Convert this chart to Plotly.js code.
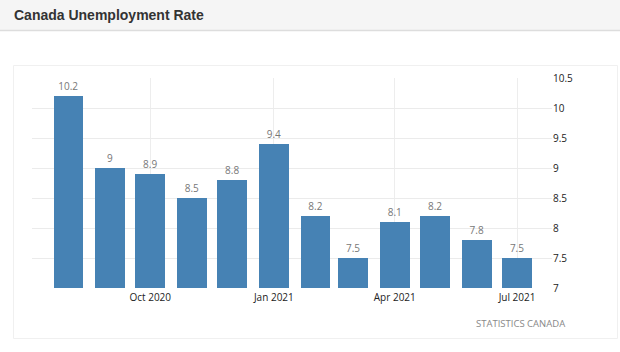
<!DOCTYPE html>
<html>
<head>
<meta charset="utf-8">
<script src="https://cdn.plot.ly/plotly-3.0.1.min.js"></script>
<style>
  html, body { margin: 0; padding: 0; background: #fff; }
  #chart { width: 620px; height: 352px; }
</style>
</head>
<body>
<div id="chart"></div>
<script>
const months = ['2020-08-01','2020-09-01','2020-10-01','2020-11-01','2020-12-01','2021-01-01',
                '2021-02-01','2021-03-01','2021-04-01','2021-05-01','2021-06-01','2021-07-01'];
const rates = [10.2, 9.0, 8.9, 8.5, 8.8, 9.4, 8.2, 7.5, 8.1, 8.2, 7.8, 7.5];
const rateLabels = ['10.2','9','8.9','8.5','8.8','9.4','8.2','7.5','8.1','8.2','7.8','7.5'];
const tickDates = ['2020-10-01','2021-01-01','2021-04-01','2021-07-01'];
const tickLabels = ['Oct 2020','Jan 2021','Apr 2021','Jul 2021'];
const yTicks = [7, 7.5, 8, 8.5, 9, 9.5, 10, 10.5];
const chartTitle = 'Canada Unemployment Rate';
const sourceText = 'STATISTICS CANADA';

const W = 620, H = 352, L = 32, R = 552, T = 78, B = 288;
const px = x => (x - L) / (R - L);
const py = y => (B - y) / (B - T);

const trace = {
  type: 'bar',
  x: months,
  y: rates,
  width: months.map(() => 22 * 86400000),
  marker: { color: '#4682b4' },
  text: rateLabels,
  textposition: 'outside',
  cliponaxis: false,
  textfont: { family: 'Open Sans', size: 10, color: '#777' },
  hoverinfo: 'x+y'
};

const layout = {
  width: W, height: H,
  margin: { l: L, r: W - R, t: T, b: H - B, pad: 0 },
  paper_bgcolor: '#fff',
  plot_bgcolor: 'rgba(0,0,0,0)',
  showlegend: false,
  bargap: 0,
  xaxis: {
    type: 'date',
    range: ['2020-07-05', '2021-07-27'],
    tickvals: tickDates,
    ticktext: tickLabels,
    showgrid: true,
    gridcolor: '#ededed',
    zeroline: false,
    showline: false,
    ticks: '',
    ticklabelstandoff: 2,
    tickfont: { family: 'Open Sans', size: 10, color: '#222' },
    fixedrange: true
  },
  yaxis: {
    side: 'right',
    range: [7, 10.5],
    tickvals: yTicks,
    showgrid: true,
    gridcolor: '#ebebeb',
    zeroline: false,
    showline: false,
    ticks: '',
    tickfont: { family: 'Open Sans', size: 10, color: '#222' },
    fixedrange: true
  },
  shapes: [
    { type: 'rect', xref: 'paper', yref: 'paper', layer: 'below',
      x0: px(0), x1: px(W), y0: py(0), y1: py(30),
      fillcolor: '#f5f5f5', line: { width: 0 } },
    { type: 'line', xref: 'paper', yref: 'paper', layer: 'below',
      x0: px(0), x1: px(W), y0: py(30.5), y1: py(30.5),
      line: { color: '#dddddd', width: 1.5 } },
    { type: 'rect', xref: 'paper', yref: 'paper', layer: 'below',
      x0: px(13.5), x1: px(617.5), y0: py(65.5), y1: py(338.5),
      fillcolor: 'rgba(0,0,0,0)', line: { color: '#f0f0f0', width: 1 } }
  ],
  annotations: [
    { text: '<b>' + chartTitle + '</b>', xref: 'paper', yref: 'paper',
      x: px(12), y: py(15.5), xanchor: 'left', yanchor: 'middle', showarrow: false,
      font: { family: 'Liberation Sans, Arial, sans-serif', size: 14, color: '#333' } },
    { text: sourceText, xref: 'paper', yref: 'paper',
      x: px(567), y: py(323), xanchor: 'right', yanchor: 'middle', showarrow: false,
      font: { family: 'Open Sans', size: 9.5, color: '#888' } }
  ]
};

Plotly.newPlot('chart', [trace], layout, { displayModeBar: false, staticPlot: true });
</script>
</body>
</html>
